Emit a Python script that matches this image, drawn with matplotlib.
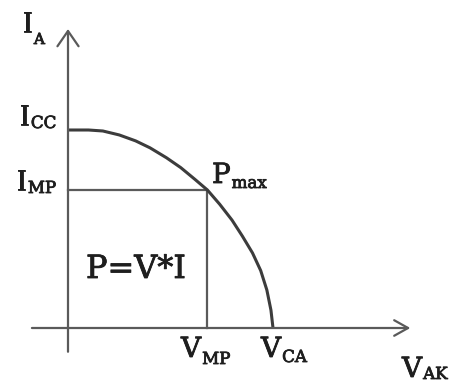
import matplotlib
matplotlib.use("Agg")
import matplotlib.pyplot as plt
import matplotlib.patheffects as pe

# ---- data (normalised: V / V_CA, I / I_CC) ----
V_curve = [0.0, 0.10, 0.17, 0.25, 0.33, 0.40, 0.48, 0.55, 0.62, 0.68,
           0.74, 0.80, 0.85, 0.90, 0.94, 0.97, 0.99, 1.0]
I_curve = [1.0, 1.0, 0.995, 0.975, 0.945, 0.91, 0.86, 0.81, 0.75, 0.697,
           0.625, 0.545, 0.465, 0.379, 0.29, 0.192, 0.09, 0.0]
I_CC = 1.0
V_CA = 1.0
V_MP = 0.68
I_MP = 0.697
v_axis = [-0.176, 1.67]
i_axis = [-0.12, 1.51]

# ---- figure geometry (pixel <-> data mapping) ----
W, H = 459, 388
X0, Y0, SX, SY = 68, 328, 205, 198

fig = plt.figure(figsize=(W / 100, H / 100), dpi=100)
ax = fig.add_axes([0, 0, 1, 1])
ax.axis("off")
ax.set_xlim(-X0 / SX, (W - X0) / SX)
ax.set_ylim((Y0 - H) / SY, Y0 / SY)


def P(x, y):
    return ((x - X0) / SX, (Y0 - y) / SY)


axis_col = "#5a5a5a"
curve_col = "#3c3c3c"
text_col = "#1e1e1e"

# axes with open arrowheads
ax.annotate("", xy=(v_axis[1], 0), xytext=(v_axis[0], 0),
            arrowprops=dict(arrowstyle="->,head_length=0.5,head_width=0.28",
                            color=axis_col, lw=1.6, mutation_scale=20,
                            shrinkA=0, shrinkB=0))
ax.annotate("", xy=(0, i_axis[1]), xytext=(0, i_axis[0]),
            arrowprops=dict(arrowstyle="->,head_length=0.55,head_width=0.38",
                            color=axis_col, lw=1.6, mutation_scale=20,
                            shrinkA=0, shrinkB=0))

# max power rectangle
ax.plot([0, V_MP, V_MP], [I_MP, I_MP, 0], color=axis_col, lw=1.6,
        solid_joinstyle="miter")

# I-V curve
ax.plot(V_curve, I_curve, color=curve_col, lw=2.2, solid_capstyle="butt")

font = "DejaVu Serif"
MS = 20   # main letter size
SS = 12   # subscript size
thick = [pe.withStroke(linewidth=0.6, foreground=text_col)]

fig.canvas.draw()
renderer = fig.canvas.get_renderer()


def label(main, sub, x_main, y_main, y_sub, ms=MS, ss=SS, gap=1):
    t = ax.text(*P(x_main, y_main), main, fontsize=ms, family=font,
                color=text_col, ha="left", va="baseline", path_effects=thick)
    bb = t.get_window_extent(renderer=renderer)
    x_sub = bb.x1 + gap           # display pixels
    xs = (x_sub - X0) / SX
    ax.text(xs, (Y0 - y_sub) / SY, sub, fontsize=ss, family=font,
            color=text_col, ha="left", va="baseline", path_effects=thick)


label("I", "A", 22, 32, 44, ss=11)
label("I", "CC", 19, 125, 128)
label("I", "MP", 16, 190, 193)
label("P", "max", 212, 183, 188)
label("V", "MP", 181, 357, 364)
label("V", "CA", 261, 357, 362)
label("V", "AK", 402, 377, 379)

ax.text(*P(86, 278), "P=V*I", fontsize=23, family=font, color=text_col,
        ha="left", va="baseline", path_effects=thick)

fig.savefig("out.png", dpi=100, facecolor="white")
